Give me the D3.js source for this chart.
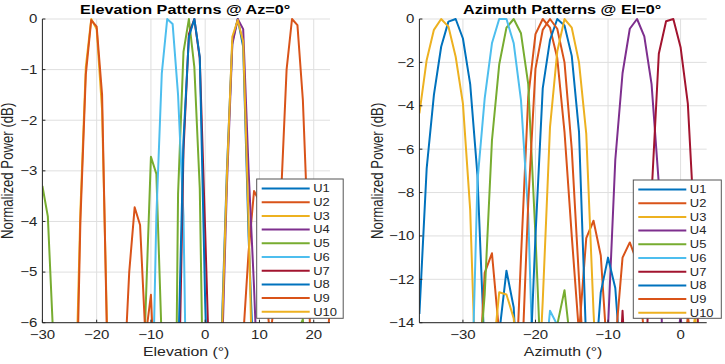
<!DOCTYPE html>
<html><head><meta charset="utf-8">
<script src="https://cdn.jsdelivr.net/npm/d3@7"></script>
<style>
body{margin:0;background:#fff}
svg{display:block}
text{font-family:"Liberation Sans",Arial,Helvetica,sans-serif;fill:#262626}
</style>
</head><body>
<svg id="c" width="725" height="364"></svg>
<script>
// ---------------- data ----------------
const users = ["U1","U2","U3","U4","U5","U6","U7","U8","U9","U10"];
const userColors = ["#0072BD","#D95319","#EDB120","#7E2F8E","#77AC30","#4DBEEE","#A2142F","#0072BD","#D95319","#EDB120"];

const elevAngles = [-30,-29,-28,-27,-26,-25,-24,-23,-22,-21,-20,-19,-18,-17,-16,-15,-14,-13,-12,-11,
  -10,-9,-8,-7,-6,-5,-4,-3,-2,-1,0,1,2,3,4,5,6,7,8,9,10,11,12,13,14,15,16,17,18,19,20,21,22,23];

const elevU1 = [-18,-22,-25,-19,-16,-17,-21,-26,-20,-17, -19,-24,-22,-18,-16,-19,-23,-20,-17,-18,
  -21,-25,-19,-16,-15,-18,-22,-17,-14,-12, -16,-20,-13,-6.3,-3.0,-0.45,0,-0.55,-4.3,-7.1,
  -11,-15,-20,-17,-14,-16,-21,-18,-15,-17, -20,-16,-13,-15];
const elevU2 = [-20,-17,-15,-18,-23,-19,-16,-14,-17,-22, -25,-18,-15,-16,-20,-24,-17,-13,-15,-19,
  -22,-16,-12,-14,-18,-21,-15,-12,-11,-14, -19,-17,-13,-10,-11,-15,-9,-6.3,-4.6,-3.4,
  -3.6,-5.2,-6.3,-5.3,-3.45,-1.0,0,-0.12,-1.6,-4.4, -10,-11,-7,-5.7];
const elevU3 = [-20,-16,-14,-17,-22,-15,-8,-3.8,-0.95,0, -0.2,-1.8,-6.5,-13,-18,-15,-12,-14,-19,-16,
  -13,-15,-20,-17,-14,-16,-21,-18,-15,-13, -16,-19,-14,-12,-15,-20,-17,-14,-16,-19,
  -22,-17,-15,-18,-21,-16,-13,-15,-19,-23, -18,-15,-17,-20];
const elevU4 = [-19,-23,-17,-15,-18,-22,-20,-16,-14,-17, -21,-18,-15,-17,-22,-19,-16,-14,-16,-20,
  -23,-17,-13,-15,-19,-16,-12,-14,-18,-15, -11,-13,-10,-7,-3.3,-0.5,0,-0.2,-3.0,-5.3,
  -8,-12,-16,-13,-11,-14,-18,-15,-12,-14, -17,-20,-16,-14];
const elevU5 = [-3.3,-3.9,-6.3,-10,-14,-17,-13,-11,-15,-19, -16,-13,-11,-14,-18,-15,-12,-10,-9,-5.8,
  -2.72,-3.06,-6.4,-12,-14,-3.46,-0.65,0,-0.95,-3.35, -10,-14,-12,-9,-11,-15,-13,-10,-12,-16,
  -14,-11,-9,-12,-15,-10,-8,-6.2,-5.93,-8, -12,-10,-8,-11];
const elevU6 = [-21,-17,-15,-18,-23,-20,-16,-14,-17,-22, -19,-15,-13,-16,-20,-18,-14,-12,-15,-13,
  -9,-3.9,-1.08,0,-0.1,-1.5,-3.9,-10.9,-14,-12, -15,-19,-16,-13,-15,-20,-17,-14,-13,-16,
  -19,-15,-12,-14,-18,-21,-16,-13,-15,-18, -21,-17,-14,-16];
const elevU7 = [-17,-21,-18,-15,-14,-17,-22,-19,-16,-15, -18,-23,-20,-16,-14,-16,-19,-15,-13,-15,
  -18,-14,-12,-13,-10,-8.2,-2.6,-0.3,0,-0.78, -4.2,-7.8,-12,-15,-13,-11,-14,-17,-15,-13,
  -16,-20,-17,-14,-12,-15,-19,-16,-14,-17, -22,-18,-15,-17];
const elevU8 = [-22,-18,-16,-19,-24,-20,-17,-15,-18,-21, -17,-14,-16,-20,-17,-13,-15,-19,-22,-16,
  -13,-15,-11,-9,-12,-6.8,-2.4,-0.35,0,-0.75, -5.6,-9,-13,-11,-14,-18,-15,-12,-14,-17,
  -21,-16,-13,-15,-19,-17,-14,-12,-15,-20, -17,-14,-16,-19];
const elevU9 = [-16,-19,-22,-18,-14,-17,-9,-4.0,-1.1,-0.02, -0.15,-1.5,-6.8,-12,-10,-7.2,-5.0,-3.72,-4.07,-6.3,
  -5.45,-8,-12,-15,-13,-16,-20,-17,-14,-16, -19,-15,-13,-16,-20,-18,-14,-12,-15,-18,
  -21,-17,-14,-13,-16,-19,-22,-18,-15,-13, -16,-19,-17,-14];
const elevU10 = [-15,-18,-21,-17,-13,-16,-20,-23,-19,-16, -14,-17,-21,-18,-15,-13,-16,-20,-17,-14,
  -16,-19,-15,-12,-14,-17,-13,-11,-13,-16, -18,-14,-11,-6.5,-3.1,-0.35,-0.02,-0.45,-4.0,-8.5,
  -13,-17,-15,-12,-14,-18,-20,-16,-13,-15, -19,-16,-14,-17];

const azAngles = [-36,-35,-34,-33,-32,-31,-30,-29,-28,-27,-26,-25,-24,-23,-22,-21,-20,-19,-18,-17,
  -16,-15,-14,-13,-12,-11,-10,-9,-8,-7,-6,-5,-4,-3,-2,-1,0,1,2,3,4];

const azU1 = [-13.6,-6.9,-3.5,-1.28,-0.12,0,-0.9,-3.0,-7.2,-15.5, -19,-14.5,-11.6,-13.3,-20,-24,-19,-17,-21,-25,
  -22,-18,-20,-24,-21,-17,-19,-23,-26,-22, -19,-21,-25,-23,-18,-20,-24,-27,-22,-19, -21];
const azU2 = [-22,-25,-20,-18,-23,-27,-21,-19,-18,-11.7, -10.8,-14.5,-20,-19,-11,-3.6,-0.7,0,-0.4,-1.8,
  -5.2,-10,-14.5,-10.1,-9.3,-10.9,-16,-20,-23,-19, -17,-15,-18,-22,-19,-21,-17,-13.7,-16,-21, -24];
const azU3 = [-4.35,-1.9,-0.5,0,-0.35,-1.74,-3.9,-8.8,-19,-22, -16,-12.6,-12.7,-13.8,-18,-21,-24,-19,-17,-20,
  -23,-19,-16,-18,-22,-25,-20,-17,-19,-23, -21,-18,-16,-19,-24,-22,-18,-20,-23,-19, -17];
const azU4 = [-18,-22,-25,-20,-17,-19,-23,-21,-18,-16, -19,-24,-21,-17,-20,-23,-19,-16,-18,-22,
  -25,-20,-17,-19,-23,-20,-14.2,-6.5,-2.5,-0.45, 0,-0.8,-3.0,-7.6,-23,-16,-13.7,-17,-21,-19, -22];
const azU5 = [-21,-19,-24,-22,-18,-20,-25,-23,-17,-12.7, -5.6,-2.1,-0.4,0,-0.66,-3.0,-10,-18,-18,-14.1,
  -12.5,-15.5,-20,-22,-19,-17,-21,-24,-20,-18, -22,-25,-21,-19,-23,-20,-18,-22,-25,-21, -19];
const azU6 = [-20,-23,-18,-21,-25,-19,-17,-20,-7.5,-3.66, -1.12,0,0,-1.12,-3.74,-9,-20,-17,-13.45,-14.1,
  -20,-23,-19,-21,-24,-18,-20,-22,-25,-21, -19,-22,-24,-20,-18,-21,-23,-19,-17,-20, -22];
const azU7 = [-22,-19,-24,-21,-18,-23,-20,-25,-22,-19, -21,-24,-20,-18,-23,-26,-21,-19,-22,-24,
  -20,-18,-23,-25,-21,-19,-22,-20,-13.45,-20, -24,-18.5,-8.1,-1.6,-0.1,0,-1.3,-3.9,-10.2,-20, -24];
const azU8 = [-19,-23,-21,-18,-24,-22,-20,-25,-19,-21, -23,-20,-24,-22,-19,-18,-10,-3.2,-0.97,0,
  -0.3,-1.7,-5.2,-15,-17,-12.6,-11.0,-12.4,-17,-21, -24,-20,-18,-22,-25,-21,-19,-23,-20,-18, -22];
const azU9 = [-24,-21,-19,-23,-25,-20,-22,-24,-21,-19, -22,-25,-23,-20,-17,-8.5,-2.3,-0.5,0,-0.45,
  -2.0,-6.0,-12,-18,-20,-19,-16,-15,-11,-10.3, -11.2,-14.6,-18,-21,-19,-22,-20,-24,-21,-18, -20];
const azU10 = [-20,-24,-22,-19,-21,-25,-23,-18,-20,-22, -24,-21,-19,-23,-25,-22,-20,-13,-5,-1.5,
  0,-0.4,-2.0,-5.3,-13.5,-20,-23,-19,-21,-24, -22,-19,-23,-25,-20,-18,-19,-16,-13.7,-17, -19];

const elevSeries = [elevU1,elevU2,elevU3,elevU4,elevU5,elevU6,elevU7,elevU8,elevU9,elevU10];
const azSeries = [azU1,azU2,azU3,azU4,azU5,azU6,azU7,azU8,azU9,azU10];

const elevTicksX = [-30,-20,-10,0,10,20];
const elevTicksY = [0,-1,-2,-3,-4,-5,-6];
const azTicksX = [-30,-20,-10,0];
const azTicksY = [0,-2,-4,-6,-8,-10,-12,-14];

// ---------------- drawing ----------------
const svg = d3.select("#c");
const SX = 1.2;
const AX = "#262626";
const fmt = d3.format("d");

function htext(g, x, y, str, size, weight, anchor, dy) {
  return g.append("text")
    .attr("transform", `translate(${x},${y}) scale(${SX},1)`)
    .attr("text-anchor", anchor)
    .attr("dy", dy || 0)
    .style("font-size", size + "px")
    .style("font-weight", weight)
    .text(str);
}

function panel(o) {
  const g = svg.append("g");
  const x = d3.scaleLinear().domain(o.xDomain).range([o.left, o.right]);
  const y = d3.scaleLinear().domain(o.yDomain).range([o.bottom, o.top]);

  // grid
  g.selectAll(".vg").data(o.xTicks).enter().append("line")
    .attr("x1", d => x(d)).attr("x2", d => x(d))
    .attr("y1", o.top).attr("y2", o.bottom)
    .attr("stroke", "#dfdfdf").attr("stroke-width", 1);
  g.selectAll(".hg").data(o.yTicks).enter().append("line")
    .attr("x1", o.left).attr("x2", o.right)
    .attr("y1", d => y(d)).attr("y2", d => y(d))
    .attr("stroke", "#dfdfdf").attr("stroke-width", 1);

  // clip
  const cid = "clip" + o.id;
  svg.append("defs").append("clipPath").attr("id", cid).append("rect")
    .attr("x", o.left).attr("y", o.top - 3)
    .attr("width", o.right - o.left).attr("height", o.bottom - o.top + 3);

  const line = d3.line().x((d, i) => x(o.angles[i])).y(d => y(d));
  const lg = g.append("g").attr("clip-path", `url(#${cid})`);
  o.series.forEach((s, k) => {
    lg.append("path").attr("d", line(s))
      .attr("fill", "none").attr("stroke", userColors[k])
      .attr("stroke-width", 2).attr("stroke-linejoin", "round");
  });

  // axes lines
  g.append("line").attr("x1", o.left).attr("x2", o.left).attr("y1", o.top).attr("y2", o.bottom)
    .attr("stroke", AX).attr("stroke-width", 1);
  g.append("line").attr("x1", o.left).attr("x2", o.right).attr("y1", o.bottom).attr("y2", o.bottom)
    .attr("stroke", AX).attr("stroke-width", 1);
  // ticks (inward)
  o.xTicks.forEach(t => {
    g.append("line").attr("x1", x(t)).attr("x2", x(t)).attr("y1", o.bottom).attr("y2", o.bottom - 3)
      .attr("stroke", AX);
    htext(g, x(t), 339, fmt(t), 12.5, "normal", "middle");
  });
  o.yTicks.forEach(t => {
    g.append("line").attr("x1", o.left).attr("x2", o.left + 3).attr("y1", y(t)).attr("y2", y(t))
      .attr("stroke", AX);
    htext(g, o.left - 5, y(t), fmt(t), 12.5, "normal", "end", "0.35em");
  });

  // titles
  htext(g, (o.left + o.right) / 2 - 1, 14, o.title, 13.5, "bold", "middle").style("fill", "#000");
  htext(g, (o.left + o.right) / 2, 356, o.xLabel, 13.2, "normal", "middle");
  g.append("text")
    .attr("transform", `translate(${o.yLabelX},${(o.top + o.bottom) / 2}) scale(${SX},1) rotate(-90)`)
    .attr("text-anchor", "middle")
    .style("font-size", "13.2px")
    .text("Normalized Power (dB)");

  // legend
  const L = o.legend;
  const leg = g.append("g");
  leg.append("rect").attr("x", L.x).attr("y", L.y).attr("width", L.w).attr("height", L.h)
    .attr("fill", "#fff").attr("stroke", "#555").attr("stroke-width", 1);
  users.forEach((u, i) => {
    const yy = L.y + 9.5 + i * 13.7;
    leg.append("line").attr("x1", L.x + 5).attr("x2", L.x + 53).attr("y1", yy).attr("y2", yy)
      .attr("stroke", userColors[i]).attr("stroke-width", 2);
    htext(leg, L.x + 56.5, yy, u, 10.8, "normal", "start", "0.36em");
  });
}

panel({
  id: "el", angles: elevAngles, series: elevSeries,
  xDomain: [-30, 23], yDomain: [-6, 0],
  left: 42.4, right: 330, top: 19, bottom: 322.7,
  xTicks: elevTicksX, yTicks: elevTicksY,
  title: "Elevation Patterns @ Az=0°", xLabel: "Elevation (°)", yLabelX: 13,
  legend: {x: 256.7, y: 179, w: 86.5, h: 139.3}
});
panel({
  id: "az", angles: azAngles, series: azSeries,
  xDomain: [-36, 3.6], yDomain: [-14, 0],
  left: 419.4, right: 706.7, top: 19, bottom: 322.7,
  xTicks: azTicksX, yTicks: azTicksY,
  title: "Azimuth Patterns @ El=0°", xLabel: "Azimuth (°)", yLabelX: 383,
  legend: {x: 633.3, y: 180, w: 88, h: 138.3}
});
</script>
</body></html>
